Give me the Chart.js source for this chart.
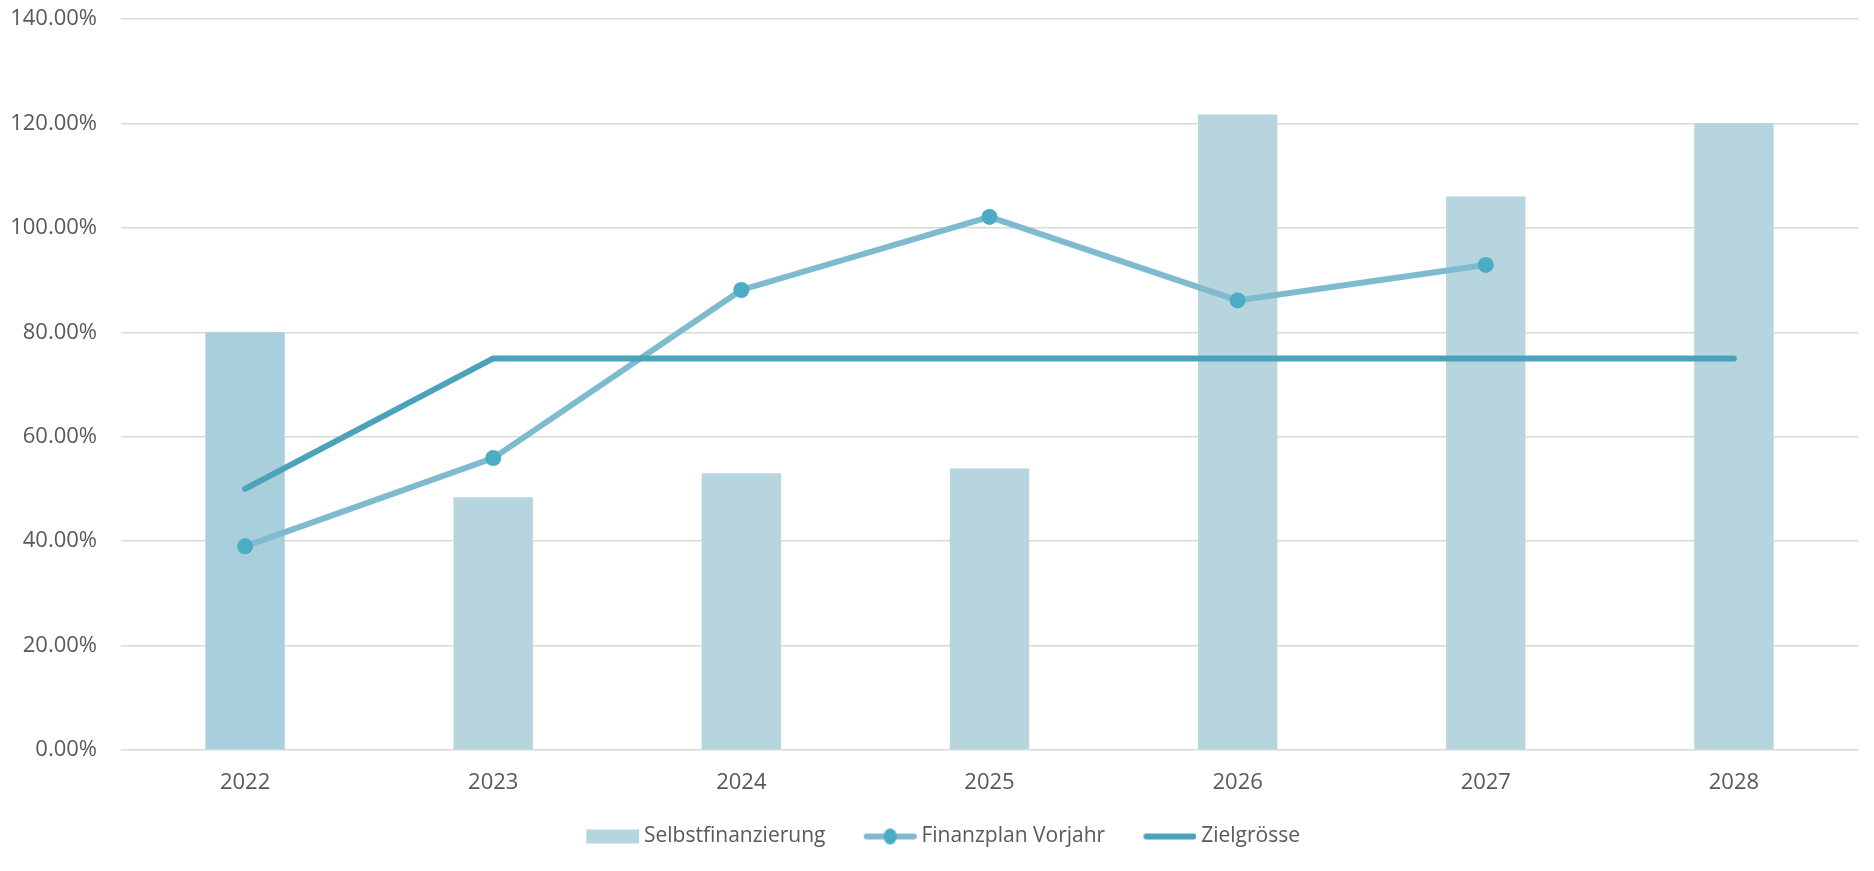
<!DOCTYPE html>
<html>
<head>
<meta charset="utf-8">
<script src="https://cdn.jsdelivr.net/npm/chart.js@4"></script>
<style>
  html, body { margin: 0; padding: 0; background: #fff; }
  #wrap { width: 1874px; height: 871px; }
</style>
</head>
<body>
<div id="wrap"><canvas id="chart" width="1874" height="871"></canvas></div>
<script>
// data start
const years = ['2022', '2023', '2024', '2025', '2026', '2027', '2028'];
const selbstfinanzierung = [80.0, 48.4, 53.0, 53.9, 121.7, 106.0, 120.1];
const finanzplanVorjahr = [39.0, 55.9, 88.1, 102.1, 86.1, 92.9, null];
const zielgroesse = [50.0, 75.0, 75.0, 75.0, 75.0, 75.0, 75.0];
const yTicks = [0, 20, 40, 60, 80, 100, 120, 140];
// data close

const barColor = '#b7d5df';
const barColorFirst = '#a9cfdc';
const planLine = '#7fbbcf';
const planPoint = '#4bacc6';
const zielLine = '#4aa3ba';
const textColor = '#595959';

// legend symbols: wide canvas, symbol sits at the right end (left part is the gap to the previous item)
const iconBox = 75.5;
function legendIcon(kind) {
  const c = document.createElement('canvas');
  c.width = 87; c.height = 18;
  const g = c.getContext('2d');
  const x0 = 34, x1 = 87;
  if (kind === 'bar') {
    g.fillStyle = barColor;
    g.fillRect(x0, 2, x1 - x0, 14);
  } else {
    g.lineCap = 'round';
    g.lineWidth = 6;
    g.strokeStyle = kind === 'plan' ? planLine : zielLine;
    g.beginPath(); g.moveTo(x0 + 3, 9); g.lineTo(x1 - 3, 9); g.stroke();
    if (kind === 'plan') {
      g.fillStyle = planPoint;
      g.beginPath(); g.ellipse((x0 + x1) / 2, 9, 6.5, 8, 0, 0, Math.PI * 2); g.fill();
    }
  }
  return c;
}
const icons = [legendIcon('bar'), legendIcon('plan'), legendIcon('ziel')];

Chart.defaults.font.family = "'Open Sans', sans-serif";
Chart.defaults.color = textColor;

const ctx = document.getElementById('chart').getContext('2d');
const chart = new Chart(ctx, {
  type: 'bar',
  data: {
    labels: years,
    datasets: [{
      type: 'bar',
      label: 'Selbstfinanzierung',
      data: selbstfinanzierung,
      backgroundColor: selbstfinanzierung.map((v, i) => i === 0 ? barColorFirst : barColor),
      barPercentage: 0.64,
      categoryPercentage: 0.5,
      order: 2
    }, {
      type: 'line',
      label: 'Finanzplan Vorjahr',
      data: finanzplanVorjahr,
      borderColor: planLine,
      borderWidth: 6,
      pointRadius: 8,
      pointHoverRadius: 8,
      pointBackgroundColor: planPoint,
      pointBorderColor: planPoint,
      pointBorderWidth: 0,
      fill: false,
      tension: 0,
      order: 1
    }, {
      type: 'line',
      label: 'Zielgrösse',
      data: zielgroesse,
      borderColor: zielLine,
      borderWidth: 6,
      borderCapStyle: 'round',
      pointRadius: 0,
      fill: false,
      tension: 0,
      order: 0
    }]
  },
  options: {
    responsive: false,
    animation: false,
    layout: { padding: { left: 0, right: 16, top: 19, bottom: 14 } },
    plugins: {
      legend: {
        position: 'bottom',
        labels: {
          usePointStyle: true,
          pointStyleWidth: iconBox,
          boxHeight: 18,
          padding: 10,
          font: { size: 21 },
          color: textColor,
          generateLabels: function (chart) {
            return chart.data.datasets.map((ds, i) => ({
              text: ds.label,
              datasetIndex: i,
              pointStyle: icons[i],
              fillStyle: 'transparent',
              strokeStyle: 'transparent',
              lineWidth: 0,
              hidden: !chart.isDatasetVisible(i),
              fontColor: textColor
            }));
          }
        }
      },
      tooltip: { enabled: false }
    },
    scales: {
      x: {
        grid: { display: false },
        border: { display: false },
        afterFit: function (scale) { scale.height = 66; },
        ticks: { font: { size: 22 }, color: textColor, padding: 12 }
      },
      y: {
        min: 0,
        max: 140,
        afterBuildTicks: function (scale) {
          scale.ticks = yTicks.map(v => ({ value: v }));
        },
        afterFit: function (scale) {
          // keep the label gap from pushing the plot area down
          scale.width = 121;
          scale.paddingTop = 0;
          scale.paddingBottom = 0;
        },
        grid: { color: '#d9d9d9', lineWidth: 1.5, drawTicks: false },
        border: { display: false },
        ticks: {
          font: { size: 22 },
          color: textColor,
          padding: 24,
          callback: v => v.toFixed(2) + '%'
        }
      }
    }
  }
});
</script>
</body>
</html>
